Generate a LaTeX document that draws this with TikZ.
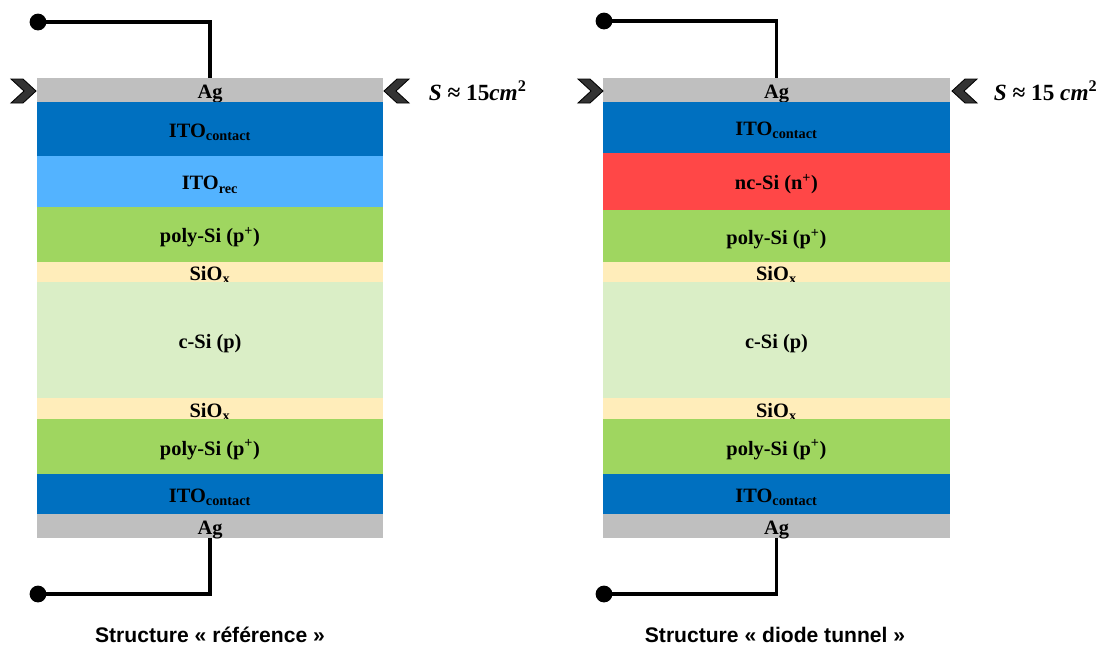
\documentclass[tikz,border=0pt]{standalone}
\usepackage{fontspec}
\setmainfont{Liberation Serif}
\newfontfamily\capfont{Liberation Sans}
\usetikzlibrary{positioning}

\definecolor{agcol}{HTML}{BFBFBF}
\definecolor{itocol}{HTML}{0070C0}
\definecolor{reccol}{HTML}{53B3FF}
\definecolor{polycol}{HTML}{9FD660}
\definecolor{sioxcol}{HTML}{FFEDBA}
\definecolor{csicol}{HTML}{DAEEC6}
\definecolor{nccol}{HTML}{FF4747}

\begin{document}
\begin{tikzpicture}[x=0.025cm, y=-0.025cm,
  layer/.style={anchor=north, minimum width=8.65cm, inner sep=0pt, outer sep=0pt,
                text height=12pt, text depth=0pt,
                font=\fontsize{14.5}{16}\selectfont\bfseries, text=black},
  dot/.style={circle, fill=black, inner sep=0pt, minimum size=0.42cm},
  wire/.style={line width=2.6pt, line join=miter},
  chev/.style={fill=black!80, draw=black, line width=0.6pt, line join=miter},
  area/.style={anchor=west, font=\fontsize{16.5}{18}\selectfont\bfseries},
  captxt/.style={font=\capfont\fontsize{15}{17}\selectfont\bfseries}
]
  \useasboundingbox (0,0) rectangle (1103,646);

  % ========== STACK A: reference ==========
  \node[layer, fill=agcol, minimum height=0.6cm] (agA1) at (210,78) {Ag};
  \node[layer, fill=itocol, minimum height=1.35cm, below=0pt of agA1] (itoA1)
    {ITO\textsubscript{contact}};
  \node[layer, fill=reccol, minimum height=1.275cm, below=0pt of itoA1] (recA)
    {ITO\textsubscript{rec}};
  \node[layer, fill=polycol, minimum height=1.375cm, below=0pt of recA] (polyA1)
    {poly-Si (p\textsuperscript{+})};
  \node[layer, fill=sioxcol, minimum height=0.5cm, below=0pt of polyA1] (sioxA1)
    {SiO\textsubscript{x}};
  \node[layer, fill=csicol, minimum height=2.9cm, below=0pt of sioxA1] (csiA)
    {c-Si (p)};
  \node[layer, fill=sioxcol, minimum height=0.525cm, below=0pt of csiA] (sioxA2)
    {SiO\textsubscript{x}};
  \node[layer, fill=polycol, minimum height=1.375cm, below=0pt of sioxA2] (polyA2)
    {poly-Si (p\textsuperscript{+})};
  \node[layer, fill=itocol, minimum height=1.0cm, below=0pt of polyA2] (itoA2)
    {ITO\textsubscript{contact}};
  \node[layer, fill=agcol, minimum height=0.6cm, below=0pt of itoA2] (agA2) {Ag};

  % ========== STACK B: diode tunnel ==========
  \node[layer, fill=agcol, minimum height=0.6cm] (agB1) at (776.5,78) {Ag};
  \node[layer, fill=itocol, minimum height=1.275cm, below=0pt of agB1] (itoB1)
    {ITO\textsubscript{contact}};
  \node[layer, fill=nccol, minimum height=1.425cm, below=0pt of itoB1] (ncB)
    {nc-Si (n\textsuperscript{+})};
  \node[layer, fill=polycol, minimum height=1.3cm, below=0pt of ncB] (polyB1)
    {poly-Si (p\textsuperscript{+})};
  \node[layer, fill=sioxcol, minimum height=0.5cm, below=0pt of polyB1] (sioxB1)
    {SiO\textsubscript{x}};
  \node[layer, fill=csicol, minimum height=2.9cm, below=0pt of sioxB1] (csiB)
    {c-Si (p)};
  \node[layer, fill=sioxcol, minimum height=0.525cm, below=0pt of csiB] (sioxB2)
    {SiO\textsubscript{x}};
  \node[layer, fill=polycol, minimum height=1.375cm, below=0pt of sioxB2] (polyB2)
    {poly-Si (p\textsuperscript{+})};
  \node[layer, fill=itocol, minimum height=1.0cm, below=0pt of polyB2] (itoB2)
    {ITO\textsubscript{contact}};
  \node[layer, fill=agcol, minimum height=0.6cm, below=0pt of itoB2] (agB2) {Ag};

  % ========== contacts ==========
  \node[dot] (tA) at (38,22) {};
  \node[dot] (bA) at (38,594) {};
  \node[dot] (tB) at (604,21) {};
  \node[dot] (bB) at (604,594) {};

  \draw[wire] (tA.center) -| (agA1.north);
  \draw[wire] (agA2.south) |- (bA.center);
  \draw[wire] (tB.center) -| (agB1.north);
  \draw[wire] (agB2.south) |- (bB.center);

  % ========== chevrons ==========
  \draw[chev] (11,79) -- (23,79) -- (36,91) -- (23,103) -- (11,103) -- (24,91) -- cycle;
  \draw[chev] (384,91) -- (397,79) -- (409,79) -- (396,91) -- (409,103) -- (397,103) -- cycle;
  \draw[chev] (578,79) -- (590,79) -- (603,91) -- (590,103) -- (578,103) -- (591,91) -- cycle;
  \draw[chev] (952,91) -- (965,79) -- (977,79) -- (964,91) -- (977,103) -- (965,103) -- cycle;

  % ========== labels ==========
  \node[area] (sA) at (424,91) {\textit{S} ≈ 15\textit{cm}\textsuperscript{2}};
  \node[area] (sB) at (989,91) {\textit{S} ≈ 15 \textit{cm}\textsuperscript{2}};

  \node[captxt] (capA) at (210,635) {Structure « référence »};
  \node[captxt] (capB) at (775,635) {Structure « diode tunnel »};

\end{tikzpicture}
\end{document}
